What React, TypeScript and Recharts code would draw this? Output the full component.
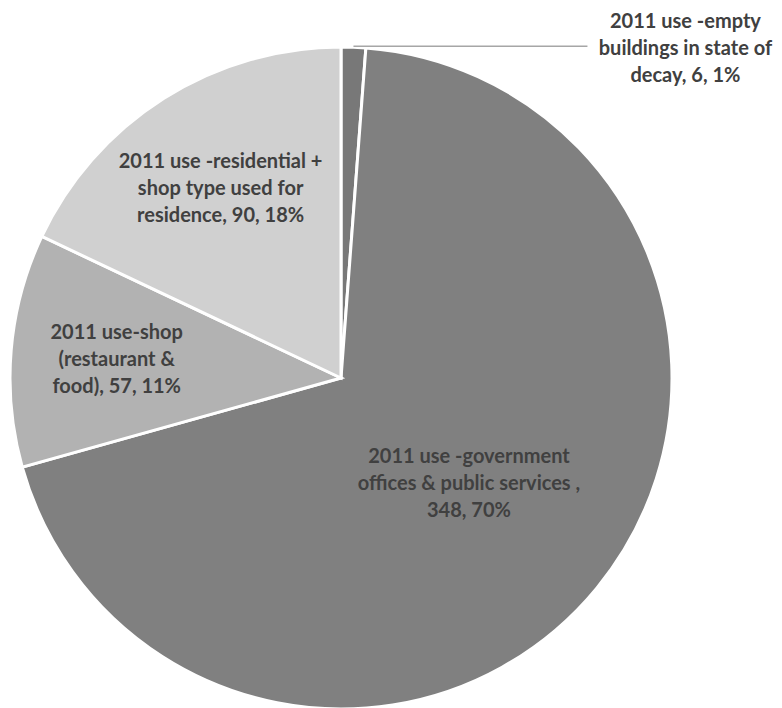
import { PieChart, Pie, Cell } from "recharts";

const categories = [
  "2011 use -empty buildings in state of decay",
  "2011 use -government offices & public services",
  "2011 use-shop (restaurant & food)",
  "2011 use -residential + shop type used for residence",
];
const values = [6, 348, 57, 90];
const labelLines = [
  ["2011 use -empty", "buildings in state of", "decay, 6, 1%"],
  ["2011 use -government", "offices & public services ,", "348, 70%"],
  ["2011 use-shop", "(restaurant &", "food), 57, 11%"],
  ["2011 use -residential +", "shop type used for", "residence, 90, 18%"],
];
const colors = ["#787878", "#808080", "#b2b2b2", "#d0d0d0"];

const chartData = categories.map((name, i) => ({ name, value: values[i] }));

const RADIAN = Math.PI / 180;
const LINE_H = 27;
const FONT = "Lato, 'Open Sans', sans-serif";

function renderLabel(props: any) {
  const { cx, cy, midAngle, outerRadius, percent, index } = props;
  const lines = labelLines[index];
  const cos = Math.cos(-midAngle * RADIAN);
  const sin = Math.sin(-midAngle * RADIAN);

  let x: number;
  let y: number;
  let leader: JSX.Element | null = null;

  if (percent < 0.05) {
    // small slice: label outside with a horizontal leader line
    const sx = cx + outerRadius * cos;
    const sy = cy + outerRadius * sin - 1;
    const ex = sx + 234;
    leader = <line x1={sx} y1={sy} x2={ex} y2={sy} stroke="#a6a6a6" strokeWidth={1.5} />;
    x = ex + 98;
    y = sy + 2;
  } else {
    const r = outerRadius * (percent > 0.5 ? 0.5 : 0.68);
    x = cx + r * cos;
    y = cy + r * sin;
  }

  const y0 = y - ((lines.length - 1) * LINE_H) / 2;
  return (
    <g>
      {leader}
      <text
        x={x}
        y={y0}
        textAnchor="middle"
        fill="#404040"
        fontFamily={FONT}
        fontWeight={700}
        fontSize={20}
      >
        {lines.map((t, i) => (
          <tspan key={i} x={x} y={y0 + i * LINE_H} dy="0.35em">
            {t}
          </tspan>
        ))}
      </text>
    </g>
  );
}

export default function App() {
  return (
    <div style={{ position: "absolute", left: 0, top: 0, background: "#fff" }}>
      <PieChart width={782} height={708} margin={{ top: 0, right: 0, bottom: 0, left: 0 }}>
        <Pie
          data={chartData}
          dataKey="value"
          nameKey="name"
          cx={341}
          cy={378}
          outerRadius={331}
          startAngle={90}
          endAngle={-270}
          stroke="#ffffff"
          strokeWidth={3}
          label={renderLabel}
          labelLine={false}
          isAnimationActive={false}
        >
          {chartData.map((d, i) => (
            <Cell key={d.name} fill={colors[i]} />
          ))}
        </Pie>
      </PieChart>
    </div>
  );
}
